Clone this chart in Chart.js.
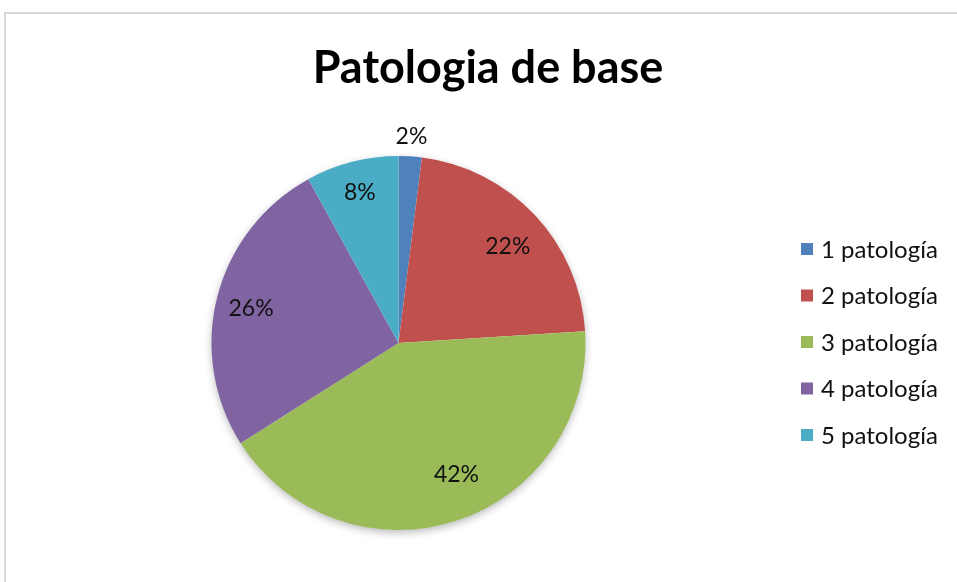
<!DOCTYPE html>
<html>
<head>
<meta charset="utf-8">
<script src="https://cdn.jsdelivr.net/npm/chart.js@4.4.1/dist/chart.umd.min.js"></script>
<style>
html,body{margin:0;padding:0;background:#fff;}
#wrap{position:relative;width:957px;height:582px;}
</style>
</head>
<body>
<div id="wrap"><canvas id="c" width="957" height="582"></canvas></div>
<script>
const titleText = "Patologia de base";
const categories = ["1 patología", "2 patología", "3 patología", "4 patología", "5 patología"];
const values = [2, 22, 42, 26, 8];
const colors = ["#4F81BD", "#C0504D", "#9BBB59", "#8064A2", "#4BACC6"];

const FONT = "Lato, 'Open Sans', sans-serif";

const framePlugin = {
  id: 'frame',
  beforeDraw(chart) {
    const ctx = chart.ctx;
    ctx.save();
    ctx.fillStyle = '#fff';
    ctx.fillRect(0, 0, chart.width, chart.height);
    ctx.strokeStyle = '#d9d9d9';
    ctx.lineWidth = 2;
    ctx.beginPath();
    ctx.moveTo(5, chart.height);
    ctx.lineTo(5, 13);
    ctx.lineTo(chart.width, 13);
    ctx.stroke();
    ctx.restore();
  }
};

const shadowPlugin = {
  id: 'pieShadow',
  beforeDatasetsDraw(chart) {
    const arc = chart.getDatasetMeta(0).data[0];
    if (!arc) return;
    const ctx = chart.ctx;
    ctx.save();
    ctx.shadowColor = 'rgba(0,0,0,0.28)';
    ctx.shadowBlur = 9;
    ctx.shadowOffsetX = 0;
    ctx.shadowOffsetY = 3;
    ctx.fillStyle = '#ffffff';
    ctx.beginPath();
    ctx.arc(arc.x, arc.y, arc.outerRadius - 0.5, 0, Math.PI * 2);
    ctx.fill();
    ctx.restore();
  }
};

const labelPlugin = {
  id: 'pctLabels',
  afterDatasetsDraw(chart) {
    const ctx = chart.ctx;
    const meta = chart.getDatasetMeta(0);
    const data = chart.data.datasets[0].data;
    const total = data.reduce((a, b) => a + b, 0);
    ctx.save();
    ctx.font = "23px " + FONT;
    ctx.fillStyle = '#111';
    ctx.textAlign = 'center';
    ctx.textBaseline = 'middle';
    const angleShift = [0, 0.03, -0.1, -0.02, 0];
    const radFactor = [0, 0.78, 0.77, 0.81, 0.83];
    meta.data.forEach((arc, i) => {
      const pct = data[i] / total;
      let mid = (arc.startAngle + arc.endAngle) / 2 + angleShift[i];
      let r = pct < 0.05 ? arc.outerRadius + 20 : arc.outerRadius * radFactor[i];
      const x = arc.x + Math.cos(mid) * r;
      const y = arc.y + Math.sin(mid) * r;
      ctx.fillText(Math.round(pct * 100) + "%", x, y);
    });
    ctx.restore();
  }
};

const textPlugin = {
  id: 'titleLegend',
  afterDraw(chart) {
    const ctx = chart.ctx;
    ctx.save();
    ctx.fillStyle = '#000';
    ctx.font = "bold 45px " + FONT;
    ctx.textAlign = 'center';
    ctx.textBaseline = 'alphabetic';
    ctx.fillText(titleText, 488, 83);
    const labels = chart.data.labels;
    const bg = chart.data.datasets[0].backgroundColor;
    ctx.font = "24px " + FONT;
    ctx.textAlign = 'left';
    ctx.textBaseline = 'middle';
    labels.forEach((lab, i) => {
      const cy = 249 + i * 46.5;
      ctx.fillStyle = bg[i];
      ctx.fillRect(801, cy - 6, 12, 12);
      ctx.fillStyle = '#111';
      ctx.fillText(lab, 821, cy + 1);
    });
    ctx.restore();
  }
};

new Chart(document.getElementById('c'), {
  type: 'pie',
  data: {
    labels: categories,
    datasets: [{
      data: values,
      backgroundColor: colors,
      borderWidth: 0
    }]
  },
  options: {
    responsive: false,
    animation: false,
    layout: { padding: { left: 211.5, right: 371.5, top: 156, bottom: 52 } },
    plugins: {
      legend: { display: false },
      title: { display: false },
      tooltip: { enabled: false }
    }
  },
  plugins: [framePlugin, shadowPlugin, labelPlugin, textPlugin]
});
</script>
</body>
</html>
